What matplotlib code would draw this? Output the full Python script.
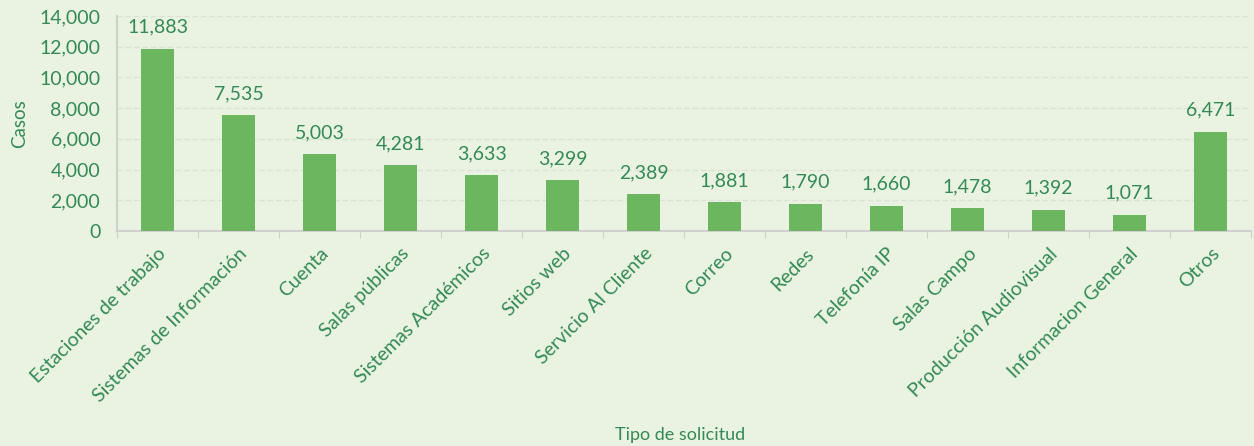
import matplotlib
matplotlib.use('Agg')
import matplotlib.pyplot as plt
import numpy as np

categorias = ["Estaciones de trabajo", "Sistemas de Información", "Cuenta",
              "Salas públicas", "Sistemas Académicos", "Sitios web",
              "Servicio Al Cliente", "Correo", "Redes", "Telefonía IP",
              "Salas Campo", "Producción Audiovisual", "Informacion General",
              "Otros"]
casos = [11883, 7535, 5003, 4281, 3633, 3299, 2389, 1881, 1790, 1660,
         1478, 1392, 1071, 6471]
yticks = [0, 2000, 4000, 6000, 8000, 10000, 12000, 14000]

fondo = '#eaf3e1'
verde_barra = '#6bb65e'
verde_texto = '#338a56'

plt.rcParams['font.family'] = ['Lato', 'DejaVu Sans']

fig = plt.figure(figsize=(12.54, 4.46), dpi=100, facecolor=fondo)
ax = fig.add_axes([117/1254, 1-231/446, (1251-117)/1254, (231-16)/446])
ax.set_facecolor(fondo)

x = np.arange(len(categorias))
ax.bar(x, casos, width=0.40, color=verde_barra, zorder=3)
for xi, v in zip(x, casos):
    ax.text(xi, v + 850, f"{v:,}", ha='center', va='bottom',
            fontsize=14, color=verde_texto)

ax.set_xlim(-0.5, len(categorias) - 0.5)
ax.set_ylim(0, 14000)
ax.set_yticks(yticks)
ax.set_yticklabels([f"{t:,}" for t in yticks])
ax.tick_params(axis='y', length=0, labelsize=14, labelcolor=verde_texto, pad=12)

# marcas del eje x en los limites de cada categoria
ax.set_xticks(np.arange(len(categorias) + 1) - 0.5)
ax.set_xticklabels([])
ax.tick_params(axis='x', which='major', length=5, color='#d0d0d0', direction='out')
ax.set_xticks(x, minor=True)
ax.set_xticklabels(categorias, minor=True, rotation=45, ha='right',
                   rotation_mode='anchor', fontsize=14, color=verde_texto)
ax.tick_params(axis='x', which='minor', length=0, pad=10)

ax.yaxis.grid(True, color='#dbe2d4', linestyle=(0, (4, 2)), linewidth=1, zorder=0)
for s in ['top', 'right']:
    ax.spines[s].set_visible(False)
for s in ['left', 'bottom']:
    ax.spines[s].set_color('#d0d0d0')
    ax.spines[s].set_linewidth(1.5)

ax.set_ylabel("Casos", fontsize=13.5, color=verde_texto, labelpad=8)
fig.text(680/1254, 1-435/446, "Tipo de solicitud", ha='center', va='center',
         fontsize=13, color=verde_texto)

fig.savefig('out.png', dpi=100, facecolor=fondo)
